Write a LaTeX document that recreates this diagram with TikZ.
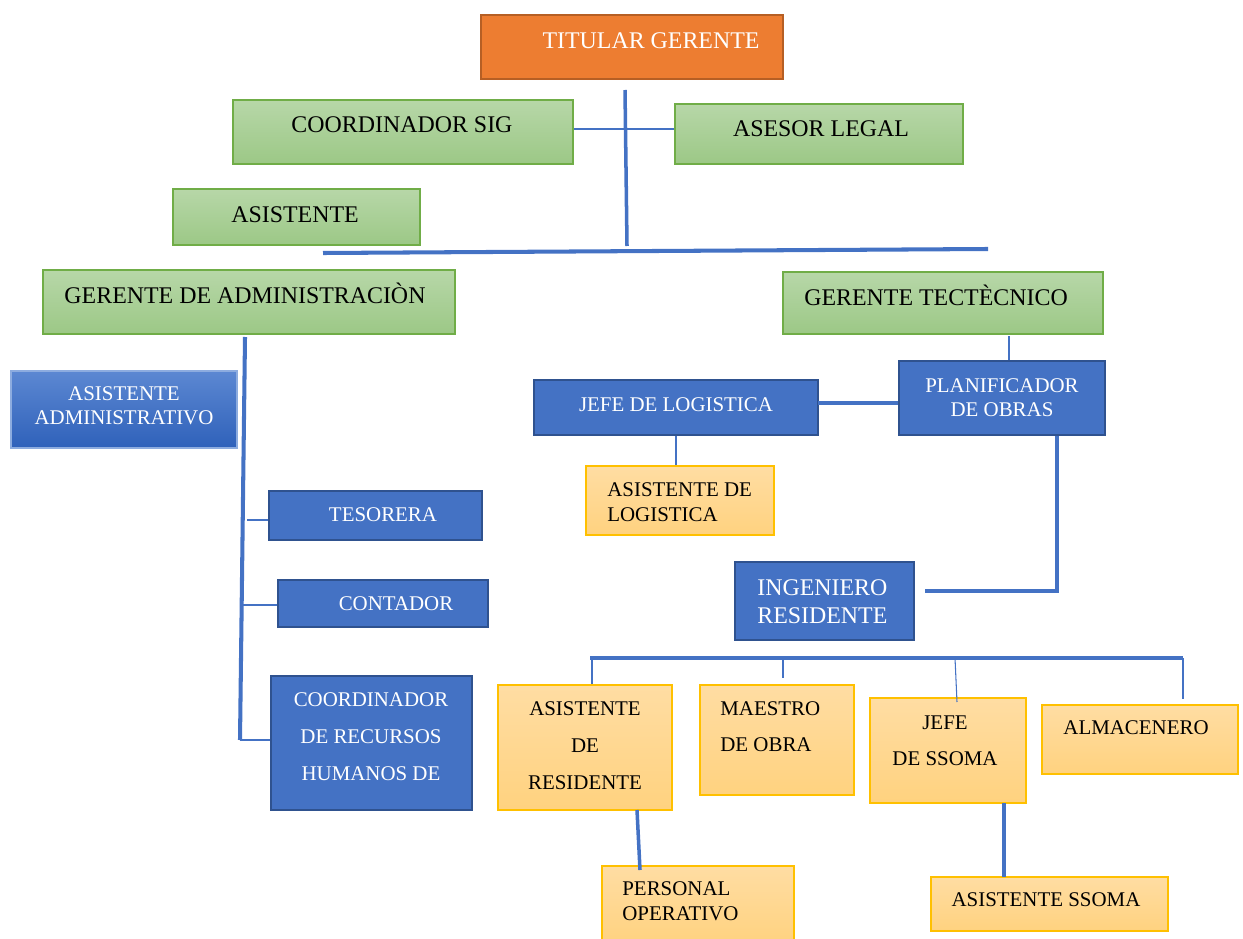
\documentclass[tikz,border=0pt]{standalone}
\usepackage{fontspec}
\setmainfont{Liberation Serif}
\usetikzlibrary{fit}

\definecolor{naranja}{HTML}{ED7D31}
\definecolor{bordenaranja}{HTML}{B65F24}
\definecolor{verdeA}{HTML}{B7D7A8}
\definecolor{verdeB}{HTML}{9CC886}
\definecolor{bordeverde}{HTML}{70AD47}
\definecolor{azul}{HTML}{4472C4}
\definecolor{bordeazul}{HTML}{2F528F}
\definecolor{azulA}{HTML}{5C88D2}
\definecolor{azulB}{HTML}{2F61BA}
\definecolor{amarA}{HTML}{FFDDA3}
\definecolor{amarB}{HTML}{FFD27F}
\definecolor{bordeamar}{HTML}{FFC000}

\begin{document}
\begin{tikzpicture}[x=0.02cm,y=-0.02cm,
	caja/.style={inner sep=0pt},
	naranjo/.style={caja, draw=bordenaranja, line width=1.2pt, fill=naranja},
	verde/.style={caja, draw=bordeverde, line width=0.7pt, top color=verdeA, bottom color=verdeB},
	azulc/.style={caja, draw=bordeazul, line width=1.2pt, fill=azul},
	azulg/.style={caja, draw=azulA!70!white, line width=0.7pt, top color=azulA, bottom color=azulB},
	amarillo/.style={caja, draw=bordeamar, line width=0.7pt, top color=amarA, bottom color=amarB},
	grande/.style={inner sep=0pt, font=\fontsize{13.6}{16}\selectfont, anchor=base},
	chico/.style={inner sep=0pt, font=\fontsize{11.9}{13.6}\selectfont, align=center},
	blanco/.style={text=white},
	fina/.style={draw=azul, line width=0.6pt},
	media/.style={draw=azul, line width=2pt},
	gruesa/.style={draw=azul, line width=2.3pt}]

	\useasboundingbox (0,0) rectangle (1243,939);

	% DIRECCION
	\node[naranjo, fit={(481,15) (783,79)}] (titular) {};
	\node[grande, blanco] (titular-t) at (651,49) {TITULAR GERENTE};
	\node[verde, fit={(233,100) (573,164)}] (sig) {};
	\node[grande] (sig-t) at (402,133) {COORDINADOR SIG};
	\node[verde, fit={(675,104) (963,164)}] (legal) {};
	\node[grande] (legal-t) at (821,137) {ASESOR LEGAL};
	\node[verde, fit={(173,189) (420,245)}] (asist) {};
	\node[grande] (asist-t) at (295,222) {ASISTENTE};

	\coordinate (t-arriba) at (625,90);
	\coordinate (t-abajo) at (627,246);
	\coordinate (t-cruce) at (625,129);
	\coordinate (b-izq) at (323,253);
	\coordinate (b-der) at (988,249);
	\draw[media] (t-arriba) -- (t-abajo);
	\draw[fina] (sig.east |- t-cruce) -- (legal.west |- t-cruce);
	\draw[gruesa] (b-izq) -- (b-der);

	% GERENTES
	\node[verde, fit={(43,270) (455,334)}] (gadm) {};
	\node[grande] (gadm-t) at (245,303) {GERENTE DE ADMINISTRACIÒN};
	\node[verde, fit={(783,272) (1103,334)}] (gtec) {};
	\node[grande] (gtec-t) at (936,305) {GERENTE TECTÈCNICO};

	% ADMINISTRACION
	\node[azulg, fit={(11,371) (237,448)}] (asadm) {};
	\node[chico, blanco] (asadm-t) at (124,406) {ASISTENTE\\ADMINISTRATIVO};
	\node[azulc, fit={(269,491) (482,540)}] (tesorera) {};
	\node[chico, blanco] (tesorera-t) at (383,515) {TESORERA};
	\node[azulc, fit={(278,580) (488,627)}] (contador) {};
	\node[chico, blanco] (contador-t) at (396,604) {CONTADOR};
	\node[azulc, fit={(271,676) (472,810)}] (rrhh) {};
	\node[chico, blanco, font=\fontsize{11.9}{21}\selectfont] (rrhh-t) at (371,737) {COORDINADOR\\DE RECURSOS\\HUMANOS DE};

	\coordinate (a-arriba) at (245,337);
	\coordinate (r-tes) at (247,520);
	\coordinate (r-con) at (243,605);
	\coordinate (r-rrhh) at (240,740);
	\draw[gruesa] (a-arriba) -- (r-rrhh);
	\draw[fina] (r-tes) -- (r-tes -| tesorera.west);
	\draw[fina] (r-con) -- (r-con -| contador.west);
	\draw[fina] (r-rrhh) -- (r-rrhh -| rrhh.west);

	% TECNICO
	\node[azulc, fit={(899,361) (1105,435)}] (planif) {};
	\node[chico, blanco] (planif-t) at (1002,398) {PLANIFICADOR\\DE OBRAS};
	\node[azulc, fit={(534,380) (818,435)}] (logistica) {};
	\node[chico, blanco] (logistica-t) at (676,405) {JEFE DE LOGISTICA};
	\node[amarillo, fit={(586,466) (774,535)}] (asislog) {};
	\node[chico, align=left, anchor=west, font=\fontsize{11.9}{14.2}\selectfont] (asislog-t) at (607,502) {ASISTENTE DE\\LOGISTICA};
	\node[azulc, fit={(735,562) (914,640)}] (ingres) {};
	\node[chico, blanco, align=left, anchor=west, font=\fontsize{13.6}{15.9}\selectfont] (ingres-t) at (757,602) {INGENIERO\\RESIDENTE};

	\coordinate (g-tec) at (1009,336);
	\coordinate (l-p) at (818,403);
	\coordinate (p-baja) at (1057,436);
	\coordinate (i-der) at (925,591);
	\draw[fina] (g-tec) -- (g-tec |- planif.north);
	\draw[media] (l-p) -- (l-p -| planif.west);
	\draw[fina] (logistica.south) -- (logistica.south |- asislog.north);
	\draw[media] (p-baja) -- (p-baja |- i-der) -- (i-der);

	% OBRA
	\node[amarillo, fit={(498,685) (672,810)}] (asisres) {};
	\node[chico, font=\fontsize{11.9}{21}\selectfont] (asisres-t) at (585,746) {ASISTENTE\\DE\\RESIDENTE};
	\node[amarillo, fit={(700,685) (854,795)}] (maestro) {};
	\node[chico, align=left, anchor=west, font=\fontsize{11.9}{20.4}\selectfont] (maestro-t) at (720,727) {MAESTRO\\DE OBRA};
	\node[amarillo, fit={(870,698) (1026,803)}] (ssoma) {};
	\node[chico, font=\fontsize{11.9}{20.4}\selectfont] (ssoma-t) at (945,741) {JEFE\\DE SSOMA};
	\node[amarillo, fit={(1042,705) (1238,774)}] (almacen) {};
	\node[chico] (almacen-t) at (1136,728) {ALMACENERO};
	\node[amarillo, fit={(602,866) (794,945)}] (personal) {};
	\node[chico, align=left, anchor=west, font=\fontsize{11.9}{14.2}\selectfont] (personal-t) at (622,901) {PERSONAL\\OPERATIVO};
	\node[amarillo, fit={(931,877) (1168,931)}] (asisssoma) {};
	\node[chico] (asisssoma-t) at (1046,900) {ASISTENTE SSOMA};

	\coordinate (o-izq) at (590,658);
	\coordinate (o-der) at (1183,658);
	\coordinate (o-1) at (592,658);
	\coordinate (o-2) at (783,658);
	\coordinate (o-2b) at (783,678);
	\coordinate (o-3) at (955,658);
	\coordinate (o-3b) at (957,702);
	\coordinate (o-4b) at (1183,699);
	\coordinate (res-a) at (637,810);
	\coordinate (res-b) at (640,870);
	\coordinate (sso-a) at (1004,803);
	\coordinate (sso-b) at (1004,877);
	\draw[gruesa] (o-izq) -- (o-der);
	\draw[fina] (o-1) -- (o-1 |- asisres.north);
	\draw[fina] (o-2) -- (o-2b);
	\draw[fina] (o-3) -- (o-3b);
	\draw[fina] (o-der) -- (o-4b);
	\draw[media] (res-a) -- (res-b);
	\draw[media] (sso-a) -- (sso-b);
\end{tikzpicture}
\end{document}
